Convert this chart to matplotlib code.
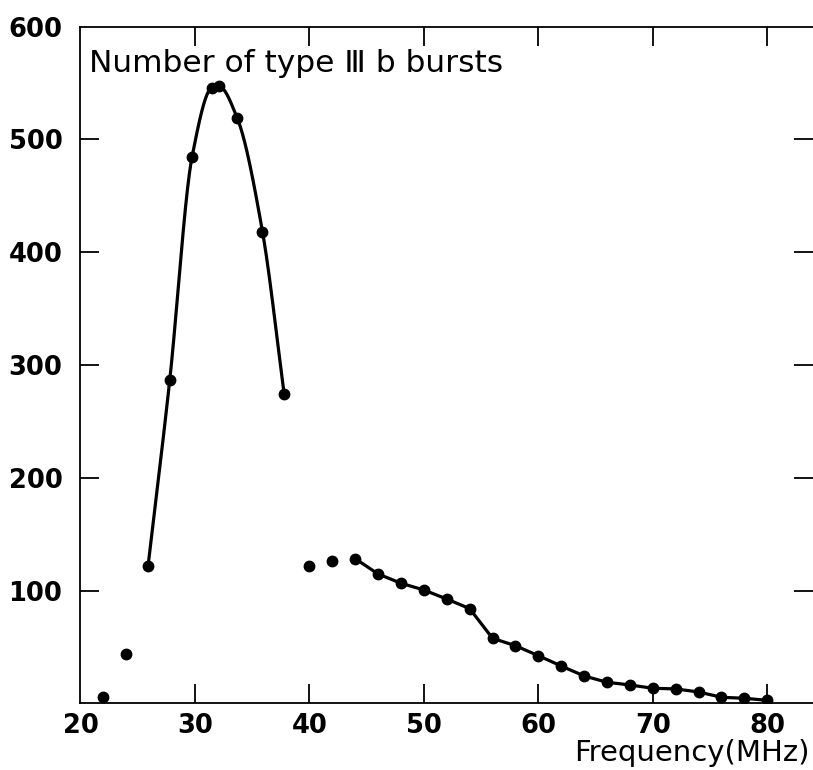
import numpy as np
import matplotlib
matplotlib.use("Agg")
import matplotlib.pyplot as plt

# burst counts per observing frequency
peak_freq = [25.9, 27.8, 29.75, 31.5, 32.1, 33.7, 35.9, 37.8]
peak_count = [121.6, 286.8, 484.7, 546, 547, 518.8, 418.3, 274.1]

loose_freq = [22, 24, 40, 42]
loose_count = [6, 44, 122, 126.6]

tail_freq = [44, 46, 48, 50, 52, 54, 56, 58, 60, 62, 64, 66, 68, 70, 72, 74, 76, 78, 80]
tail_count = [128.4, 114.8, 106.6, 100.6, 92.6, 84.1, 57.8, 51.2, 42.4, 33.2, 24.4,
              18.8, 16.4, 13.5, 12.9, 10.2, 5.5, 4.6, 2.8]

x_ticks = [20, 30, 40, 50, 60, 70, 80]
y_ticks = [100, 200, 300, 400, 500, 600]


def smooth_curve(x, y, n=400):
    # monotone cubic (Fritsch-Carlson) so the curve does not overshoot the points
    x = np.asarray(x, float)
    y = np.asarray(y, float)
    h = np.diff(x)
    d = np.diff(y) / h
    m = np.zeros_like(y)
    m[0], m[-1] = d[0], d[-1]
    for i in range(1, len(x) - 1):
        if d[i - 1] * d[i] > 0:
            w1 = 2 * h[i] + h[i - 1]
            w2 = h[i] + 2 * h[i - 1]
            m[i] = (w1 + w2) / (w1 / d[i - 1] + w2 / d[i])
    xs = np.linspace(x[0], x[-1], n)
    idx = np.clip(np.searchsorted(x, xs) - 1, 0, len(x) - 2)
    t = (xs - x[idx]) / h[idx]
    h00 = 2 * t**3 - 3 * t**2 + 1
    h10 = t**3 - 2 * t**2 + t
    h01 = -2 * t**3 + 3 * t**2
    h11 = t**3 - t**2
    ys = h00 * y[idx] + h10 * h[idx] * m[idx] + h01 * y[idx + 1] + h11 * h[idx] * m[idx + 1]
    return xs, ys


fig = plt.figure(figsize=(8.13, 7.70), dpi=100)
ax = fig.add_axes([0.099, 0.0864, 0.901, 0.879])

sx, sy = smooth_curve(peak_freq, peak_count)
ax.plot(sx, sy, color="black", lw=2.3)
ax.plot(peak_freq, peak_count, "o", color="black", ms=7.5)
ax.plot(tail_freq, tail_count, "-o", color="black", lw=2.3, ms=7.5)
ax.plot(loose_freq, loose_count, "o", color="black", ms=7.5)

ax.set_xlim(20, 84)
ax.set_ylim(0, 600)

ax.set_xticks(x_ticks)
ax.set_yticks(y_ticks)
ax.tick_params(axis="both", direction="in", length=14, width=1.3, labelsize=18.5)
ax.tick_params(axis="x", pad=7, top=True)
ax.tick_params(axis="y", pad=13, right=True)
for lab in ax.get_xticklabels() + ax.get_yticklabels():
    lab.set_fontweight("bold")
ax.spines["right"].set_visible(False)
for s in ["left", "bottom", "top"]:
    ax.spines[s].set_linewidth(1.3)

# no tick marks in the corners, only the labels
for t in ax.xaxis.get_major_ticks()[:1]:
    t.tick1line.set_visible(False)
    t.tick2line.set_visible(False)
for t in ax.yaxis.get_major_ticks()[-1:]:
    t.tick1line.set_visible(False)
    t.tick2line.set_visible(False)

ax.text(0.012, 0.945, "Number of type Ⅲ b bursts", transform=ax.transAxes,
        fontsize=22.5, va="center", ha="left")
fig.text(0.996, 0.004, "Frequency(MHz)", fontsize=21, ha="right", va="bottom")

fig.savefig("out.png", dpi=100)
